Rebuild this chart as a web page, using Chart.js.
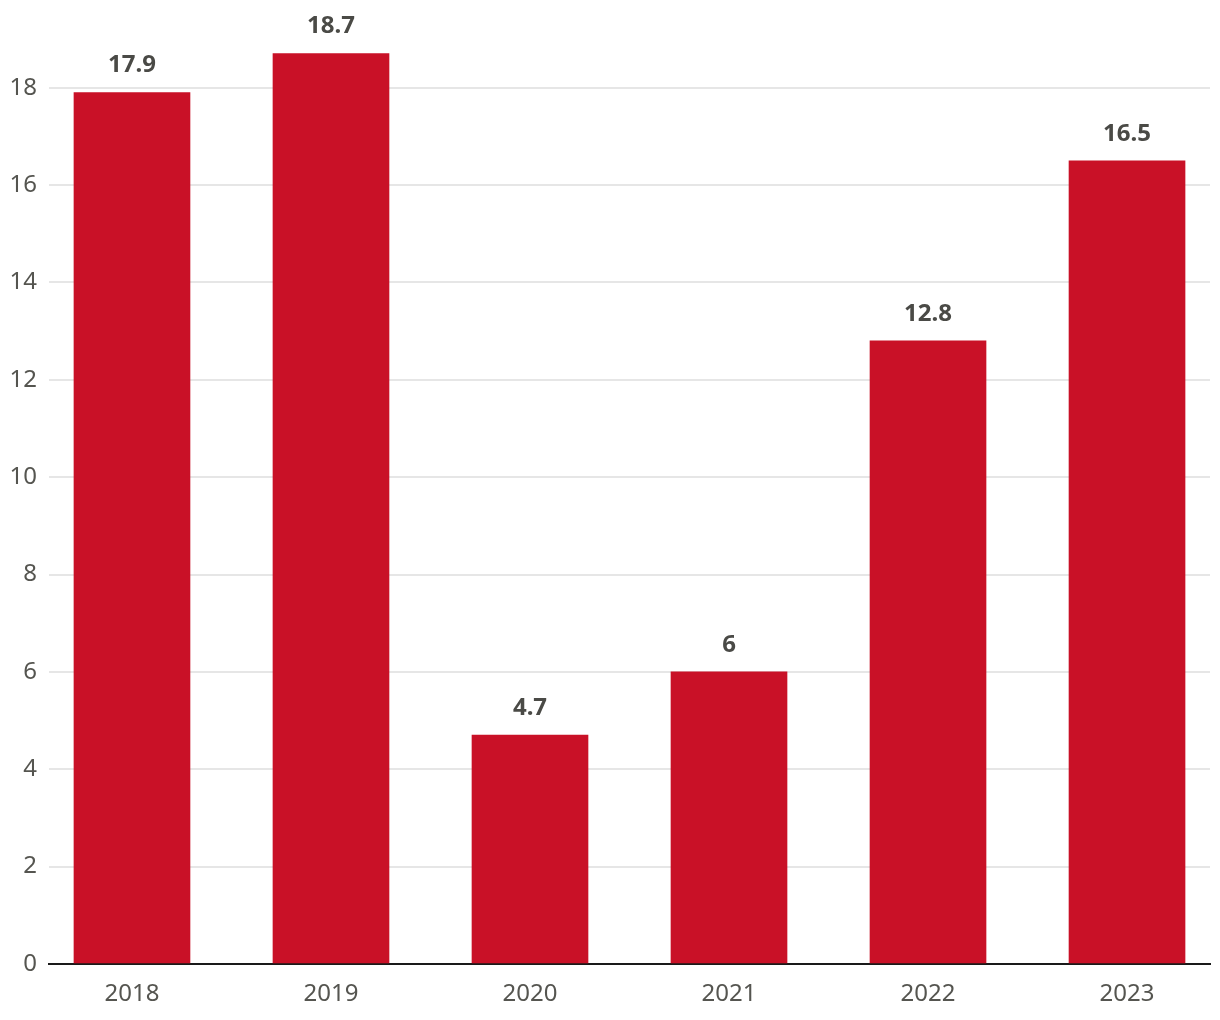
<!DOCTYPE html>
<html>
<head>
<meta charset="utf-8">
<script src="https://cdn.jsdelivr.net/npm/chart.js@4.4.1/dist/chart.umd.min.js"></script>
<style>
  html, body { margin: 0; padding: 0; background: #fff; }
  #wrap { width: 1220px; height: 1020px; }
</style>
</head>
<body>
<div id="wrap"><canvas id="barChart"></canvas></div>
<script>
const years = ['2018', '2019', '2020', '2021', '2022', '2023'];
const values = [17.9, 18.7, 4.7, 6, 12.8, 16.5];
const yTicks = [0, 2, 4, 6, 8, 10, 12, 14, 16, 18];

const valueLabels = {
    id: 'valueLabels',
    afterDatasetsDraw(chart) {
        const ctx = chart.ctx;
        ctx.save();
        ctx.font = 'bold 24px "Noto Sans"';
        ctx.fillStyle = '#4a4a46';
        ctx.textAlign = 'center';
        ctx.textBaseline = 'middle';
        chart.getDatasetMeta(0).data.forEach(function (bar, i) {
            ctx.fillText(String(values[i]), bar.x, bar.y - 27);
        });
        ctx.restore();
    }
};

const ctx = document.getElementById('barChart').getContext('2d');
new Chart(ctx, {
    type: 'bar',
    data: {
        datasets: [{
            data: values.map(function (v, i) { return { x: i, y: v }; }),
            backgroundColor: '#c91127',
            barThickness: 116
        }]
    },
    plugins: [valueLabels],
    options: {
        responsive: true,
        maintainAspectRatio: false,
        animation: false,
        layout: { padding: { top: 39, right: 10, left: 0, bottom: 0 } },
        plugins: {
            legend: { display: false },
            tooltip: { enabled: false }
        },
        scales: {
            x: {
                type: 'linear',
                offset: false,
                min: -0.417,
                max: 5.417,
                afterBuildTicks: function (scale) {
                    scale.ticks = years.map(function (y, i) { return { value: i }; });
                },
                afterFit: function (scale) { scale.height = 56; },
                grid: { display: false },
                border: { color: '#1a1a1a', width: 2 },
                ticks: {
                    padding: 8,
                    color: '#555550',
                    font: { family: 'Noto Sans', size: 24 },
                    callback: function (value) { return years[value]; }
                }
            },
            y: {
                min: 0,
                max: 19,
                afterBuildTicks: function (scale) {
                    scale.ticks = yTicks.map(function (v) { return { value: v }; });
                },
                afterFit: function (scale) { scale.width = 49; },
                grid: { color: '#e6e6e6', lineWidth: 2, drawTicks: false },
                border: { display: false },
                ticks: {
                    padding: 12,
                    color: '#555550',
                    font: { family: 'Noto Sans', size: 24 }
                }
            }
        }
    }
});
</script>
</body>
</html>
